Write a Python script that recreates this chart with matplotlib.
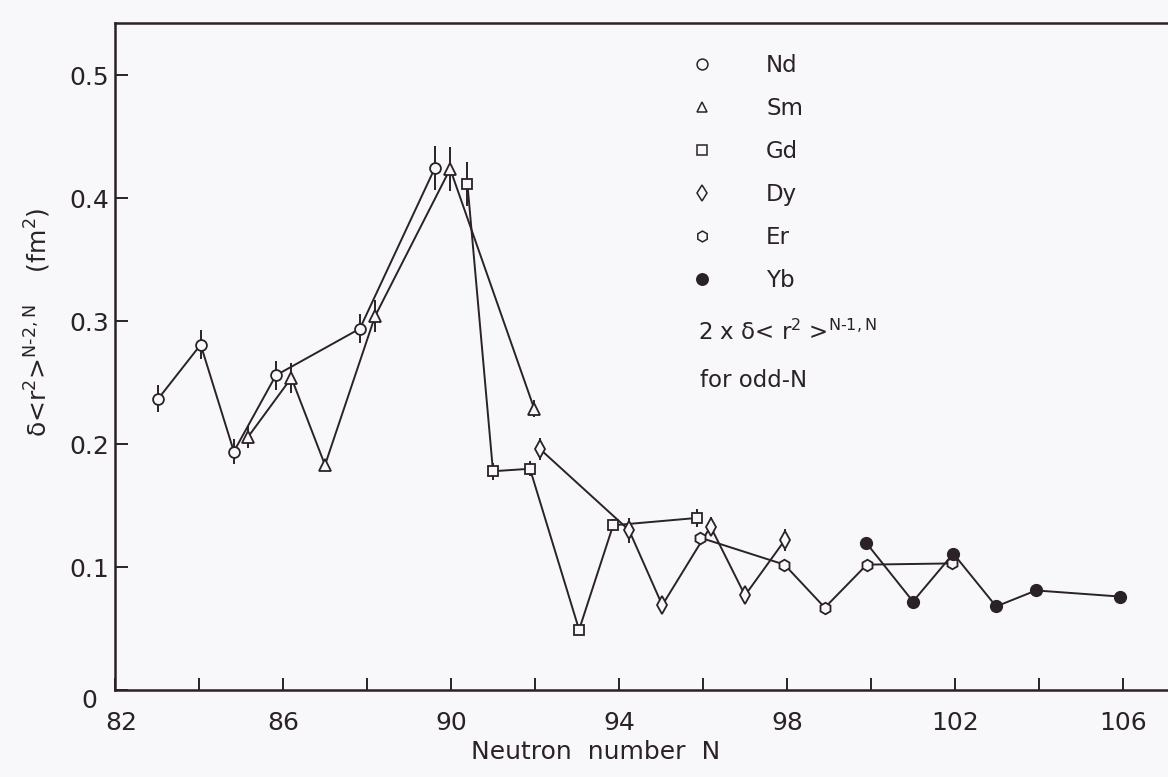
import matplotlib
matplotlib.use("Agg")
import matplotlib.pyplot as plt
import matplotlib.transforms as mtransforms

# Even-N differences of the mean-square charge radius (fm^2) versus neutron number.
# Neutron numbers carry the small sideways shifts used to keep overlapping isotopes apart.
nd_n = [83.03, 84.04, 84.83, 85.83, 87.83, 89.62]
nd_v = [0.237, 0.281, 0.194, 0.256, 0.294, 0.425]
nd_e = [0.011, 0.012, 0.010, 0.012, 0.012, 0.018]

sm_n = [85.17, 86.20, 87.00, 88.19, 89.98, 91.98]
sm_v = [0.206, 0.254, 0.183, 0.304, 0.424, 0.229]
sm_e = [0.009, 0.012, 0.005, 0.013, 0.018, 0.007]

gd_n = [90.39, 91.00, 91.88, 93.05, 93.86, 95.86]
gd_v = [0.412, 0.178, 0.180, 0.049, 0.134, 0.140]
gd_e = [0.018, 0.007, 0.006, 0.000, 0.005, 0.007]

dy_n = [92.12, 94.24, 95.03, 96.18, 97.00, 97.95]
dy_v = [0.196, 0.130, 0.069, 0.133, 0.077, 0.122]
dy_e = [0.009, 0.010, 0.000, 0.008, 0.000, 0.009]

er_n = [95.93, 97.94, 98.90, 99.90, 101.94]
er_v = [0.124, 0.102, 0.067, 0.102, 0.103]

yb_n = [99.88, 101.00, 101.96, 102.98, 103.93, 105.94]
yb_v = [0.120, 0.072, 0.111, 0.068, 0.081, 0.076]

elements = ["Nd", "Sm", "Gd", "Dy", "Er", "Yb"]
x_ticks = [82, 86, 90, 94, 98, 102, 106]
x_minor = [84, 88, 92, 96, 100, 104]
y_ticks = [0, 0.1, 0.2, 0.3, 0.4, 0.5]
y_ticklabels = ["0", "0.1", "0.2", "0.3", "0.4", "0.5"]

plt.rcParams["font.family"] = ["DejaVu Sans"]
plt.rcParams["mathtext.default"] = "regular"

INK = "#2a2226"
PAPER = "#f8f8fa"

fig = plt.figure(figsize=(11.68, 7.77), dpi=100, facecolor=PAPER)
ax = fig.add_axes([115 / 1168, 87 / 777, 1053 / 1168, 667.5 / 777])
ax.set_facecolor(PAPER)
ax.set_xlim(82, 82 + 1053 / 42)
ax.set_ylim(0, 0.5431)

for side in ("left", "bottom", "top"):
    ax.spines[side].set_color(INK)
    ax.spines[side].set_linewidth(1.8)
ax.spines["right"].set_visible(False)

ax.set_xticks(x_ticks)
ax.set_xticks(x_minor, minor=True)
ax.set_xticklabels([str(t) for t in x_ticks])
ax.set_yticks(y_ticks)
ax.set_yticklabels(y_ticklabels)
ax.tick_params(which="both", direction="in", length=9, width=1.4, color=INK,
               top=False, right=False)
ax.tick_params(axis="x", which="major", labelsize=18, labelcolor=INK, pad=15)
ax.tick_params(axis="y", labelsize=18, labelcolor=INK, pad=4)

# nudge the two labels that share the origin corner
dpi_tr = fig.dpi_scale_trans
lab82 = ax.get_xticklabels()[0]
lab82.set_transform(lab82.get_transform() + mtransforms.ScaledTranslation(6 / 100, 0, dpi_tr))
lab0 = ax.get_yticklabels()[0]
lab0.set_transform(lab0.get_transform() + mtransforms.ScaledTranslation(-12 / 100, -8 / 100, dpi_tr))


def series(ns, vs, marker, ms, face, errs=None):
    ax.plot(ns, vs, "-", color=INK, lw=1.4, zorder=2)
    if errs is not None:
        ax.errorbar(ns, vs, yerr=errs, fmt="none", ecolor=INK, elinewidth=1.4,
                    capsize=0, zorder=3)
    ax.plot(ns, vs, linestyle="none", marker=marker, ms=ms, mfc=face, mec=INK,
            mew=1.3, zorder=4)


series(nd_n, nd_v, "o", 7.8, PAPER, nd_e)
series(sm_n, sm_v, "^", 8.2, PAPER, sm_e)
series(gd_n, gd_v, "s", 7.6, PAPER, gd_e)
series(dy_n, dy_v, "d", 9.2, PAPER, dy_e)
series(er_n, er_v, "h", 8.3, PAPER)
series(yb_n, yb_v, "o", 8.2, INK)

# key
markers = ["o", "^", "s", "d", "h", "o"]
faces = [PAPER, PAPER, PAPER, PAPER, PAPER, INK]
key_sizes = [7.8, 7.8, 7.2, 8.5, 7.8, 8.2]


def ax_x(px):
    return (px - 115) / 1053


def ax_y(py):
    return (690 - py) / 667.5


for i, (name, mk, fc, ks) in enumerate(zip(elements, markers, faces, key_sizes)):
    yc = 64 + 43 * i
    ax.plot([ax_x(702)], [ax_y(yc)], transform=ax.transAxes, marker=mk, ms=ks,
            mfc=fc, mec=INK, mew=1.1, linestyle="none", clip_on=False, zorder=5)
    ax.text(ax_x(766), ax_y(yc + 8), name, transform=ax.transAxes, ha="left",
            va="baseline", fontsize=16.5, color=INK)

ax.text(ax_x(698), ax_y(340), "2 x $\\delta$< r$^2$ >$^{N\u20101, N}$", transform=ax.transAxes,
        ha="left", va="baseline", fontsize=16.5, color=INK)
ax.text(ax_x(700), ax_y(387), "for odd-N", transform=ax.transAxes,
        ha="left", va="baseline", fontsize=16.5, color=INK)

ax.set_xlabel("Neutron  number  N", fontsize=18, color=INK)
ax.xaxis.set_label_coords(ax_x(596), ax_y(752))
ax.xaxis.label.set_verticalalignment("center")
ax.set_ylabel("$\\delta$<r$^2$>$^{N\u20102,N}$    (fm$^2$)", fontsize=18, color=INK)
ax.yaxis.set_label_coords(ax_x(38), ax_y(322))
ax.yaxis.label.set_verticalalignment("center")

fig.savefig("out.png", dpi=100, facecolor=PAPER)
